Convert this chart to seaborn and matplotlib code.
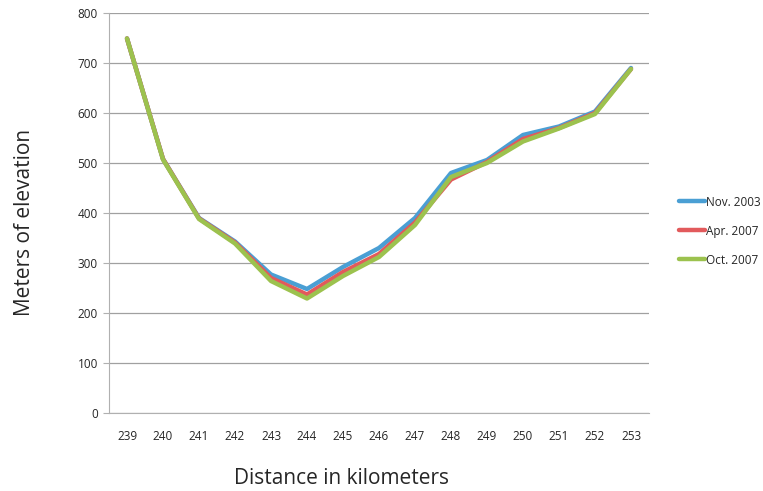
import pandas as pd
import matplotlib.pyplot as plt
import seaborn as sns

km = [239, 240, 241, 242, 243, 244, 245, 246, 247, 248, 249, 250, 251, 252, 253]
nov_2003 = [749, 508, 390, 343, 277, 248, 292, 330, 390, 480, 506, 556, 573, 603, 690]
apr_2007 = [749, 508, 389, 341, 270, 237, 282, 318, 381, 467, 502, 548, 570, 600, 688]
oct_2007 = [749, 507, 388, 339, 264, 229, 274, 312, 376, 472, 500, 543, 569, 598, 688]
series_names = ['Nov. 2003', 'Apr. 2007', 'Oct. 2007']
colors = ['#4a9fd4', '#e25a5c', '#9cc24e']

sns.set_style('white')
plt.rcParams['font.family'] = ['Open Sans', 'DejaVu Sans']

df = pd.DataFrame({
    'km': km * 3,
    'elev': nov_2003 + apr_2007 + oct_2007,
    'series': [s for s in series_names for _ in km],
})

fig = plt.figure(figsize=(7.63, 4.91), dpi=100)
ax = fig.add_axes([109 / 763, 1 - 413 / 491, 540 / 763, 400 / 491])

sns.lineplot(data=df, x='km', y='elev', hue='series', palette=colors,
             hue_order=series_names, lw=3.2, ax=ax, legend=False)

ax.set_xlim(238.5, 253.5)
ax.set_ylim(0, 800)
ax.set_yticks(range(0, 801, 100))
ax.set_xticks(km)
ax.set_xticks([k - 0.5 for k in km] + [253.5], minor=True)
ax.yaxis.grid(True, color='#a0a0a0', lw=0.9)
ax.set_axisbelow(True)
for s in ['top', 'right']:
    ax.spines[s].set_visible(False)
for s in ['left', 'bottom']:
    ax.spines[s].set_color('#b0b0b0')
ax.tick_params(axis='x', which='major', length=0, labelsize=8.5, pad=12)
ax.tick_params(axis='x', which='minor', length=4, color='#b0b0b0')
ax.tick_params(axis='y', length=4, color='#b0b0b0', labelsize=8.5, pad=4,
               direction='out', left=True)

ax.set_xlabel('Distance in kilometers', fontsize=15, va='center')
ax.xaxis.set_label_coords((342 - 109) / 540, -(479 - 413) / 400)
ax.set_ylabel('Meters of elevation', fontsize=15, va='center')
ax.yaxis.set_label_coords(-(109 - 25) / 540, (413 - 222) / 400)

handles = [plt.Line2D([], [], color=c, lw=3.2) for c in colors]
fig.legend(handles, series_names, loc='upper left', bbox_to_anchor=(668 / 763, 1 - 185 / 491),
           frameon=False, fontsize=8.5, handlelength=2.2, handletextpad=0.1, labelspacing=1.35)

fig.savefig('out.png', dpi=100)
